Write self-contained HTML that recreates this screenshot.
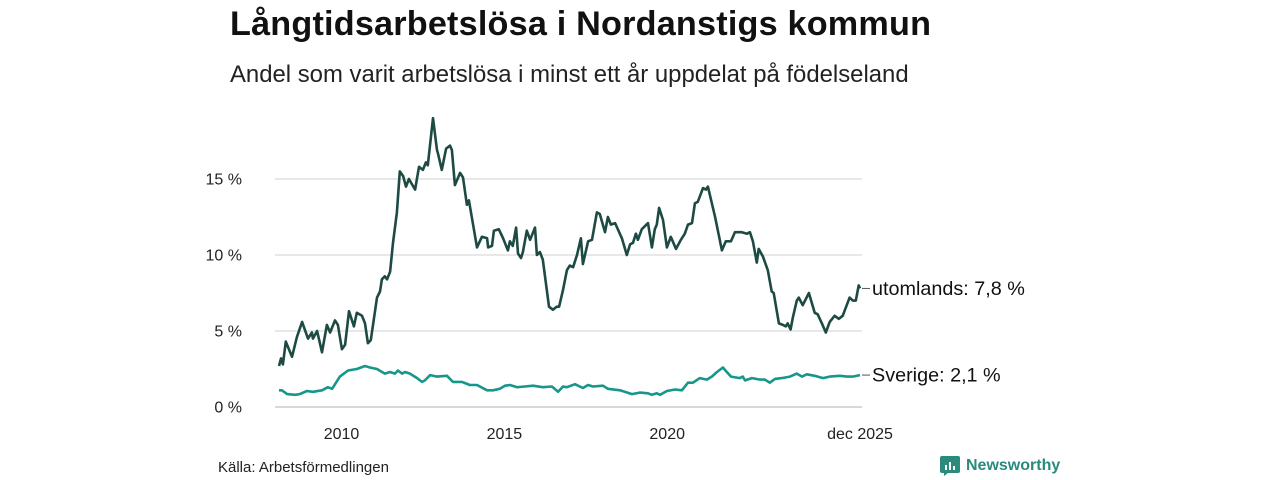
<!DOCTYPE html>
<html><head><meta charset="utf-8">
<style>
body{margin:0;background:#fff;width:1280px;height:480px;overflow:hidden;font-family:"Liberation Sans",sans-serif;}
#title{position:absolute;left:230px;top:5px;font-size:34.2px;font-weight:bold;color:#111;letter-spacing:0.2px}
#sub{position:absolute;left:230px;top:61px;font-size:23.9px;color:#222}
#src{position:absolute;left:218px;top:459px;font-size:15px;color:#222}
#logo{position:absolute;left:940px;top:456px;font-size:16px;font-weight:bold;color:#2a8a7c;display:flex;align-items:center;gap:6px}
svg{position:absolute;left:0;top:0}
</style></head><body>
<div id="title">Långtidsarbetslösa i Nordanstigs kommun</div>
<div id="sub">Andel som varit arbetslösa i minst ett år uppdelat på födelseland</div>
<div id="src">Källa: Arbetsförmedlingen</div>
<div id="logo"><svg width="20" height="20" style="position:static" viewBox="0 0 20 20"><rect x="0" y="0" width="20" height="17" rx="2" fill="#2a8a7c"/><path d="M4 17 L4 20 L8 17Z" fill="#2a8a7c"/><rect x="5" y="9" width="2" height="5" fill="#fff"/><rect x="9" y="6" width="2" height="8" fill="#fff"/><rect x="13" y="10" width="2" height="4" fill="#fff"/></svg><span>Newsworthy</span></div>
<svg id="chart" width="1280" height="480"></svg>
<script>
const yTicks=[0,5,10,15];
const yTickLabels=["0 %","5 %","10 %","15 %"];
const xTicks=[2010,2015,2020,2025.92];
const xTickLabels=["2010","2015","2020","dec 2025"];
const utDates=[2008.08,2008.14,2008.20,2008.29,2008.48,2008.63,2008.79,2008.97,2009.09,2009.12,2009.25,2009.40,2009.55,2009.65,2009.80,2009.89,2010.01,2010.11,2010.23,2010.38,2010.47,2010.63,2010.72,2010.81,2010.90,2011.09,2011.18,2011.24,2011.33,2011.40,2011.49,2011.58,2011.70,2011.79,2011.89,2011.98,2012.07,2012.26,2012.38,2012.50,2012.59,2012.65,2012.81,2012.93,2012.96,2013.08,2013.21,2013.33,2013.39,2013.48,2013.64,2013.73,2013.85,2013.91,2014.16,2014.31,2014.47,2014.50,2014.62,2014.68,2014.83,2014.96,2015.11,2015.17,2015.26,2015.36,2015.42,2015.51,2015.57,2015.69,2015.79,2015.94,2016.00,2016.09,2016.18,2016.37,2016.49,2016.61,2016.68,2016.80,2016.92,2017.01,2017.11,2017.23,2017.35,2017.41,2017.57,2017.69,2017.84,2017.93,2018.09,2018.18,2018.27,2018.40,2018.61,2018.76,2018.86,2018.95,2019.04,2019.10,2019.22,2019.41,2019.53,2019.62,2019.68,2019.75,2019.87,2019.99,2020.11,2020.27,2020.42,2020.54,2020.64,2020.76,2020.85,2020.94,2021.10,2021.19,2021.25,2021.47,2021.68,2021.80,2021.96,2022.08,2022.29,2022.45,2022.54,2022.63,2022.75,2022.81,2022.94,2023.09,2023.21,2023.27,2023.43,2023.55,2023.64,2023.70,2023.79,2023.86,2023.98,2024.04,2024.16,2024.35,2024.53,2024.62,2024.75,2024.87,2024.99,2025.14,2025.27,2025.39,2025.60,2025.70,2025.79,2025.88,2025.92];
const utValues=[2.7,3.2,2.8,4.3,3.3,4.6,5.6,4.5,4.9,4.5,5.0,3.6,5.4,4.9,5.7,5.4,3.8,4.1,6.3,5.3,6.2,6.0,5.5,4.2,4.4,7.2,7.6,8.4,8.6,8.4,8.9,10.8,12.8,15.5,15.2,14.5,15.0,14.3,15.8,15.6,16.1,15.9,19.0,16.9,16.7,15.6,17.0,17.2,16.9,14.6,15.4,15.1,13.3,13.6,10.5,11.2,11.1,10.5,10.6,11.6,11.7,11.1,10.3,10.9,10.6,11.8,10.1,9.8,10.2,11.6,11.0,11.8,10.0,10.2,9.7,6.6,6.4,6.6,6.6,7.7,9.0,9.3,9.2,10.0,11.1,9.4,10.9,11.0,12.8,12.7,11.5,12.5,12.0,12.1,11.1,10.0,10.7,10.8,11.4,11.0,11.7,12.1,10.5,11.7,12.0,13.1,12.3,10.5,11.2,10.4,11.0,11.4,12.0,12.1,13.4,13.5,14.4,14.3,14.5,12.5,10.3,10.9,10.9,11.5,11.5,11.4,11.5,10.9,9.5,10.4,9.9,9.0,7.6,7.5,5.5,5.4,5.3,5.5,5.1,5.9,7.0,7.2,6.7,7.5,6.2,6.1,5.5,4.9,5.6,6.0,5.8,6.0,7.2,7.0,7.0,8.0,7.8];
const seDates=[2008.08,2008.17,2008.33,2008.57,2008.72,2008.94,2009.12,2009.40,2009.58,2009.71,2009.95,2010.20,2010.47,2010.72,2010.87,2011.09,2011.33,2011.49,2011.64,2011.73,2011.86,2011.95,2012.10,2012.32,2012.47,2012.56,2012.72,2012.93,2013.24,2013.42,2013.70,2013.94,2014.16,2014.47,2014.65,2014.86,2015.02,2015.17,2015.39,2015.63,2015.88,2016.18,2016.46,2016.65,2016.80,2016.92,2017.17,2017.41,2017.57,2017.72,2018.03,2018.18,2018.55,2018.92,2019.16,2019.41,2019.53,2019.68,2019.78,2019.99,2020.24,2020.45,2020.64,2020.79,2021.00,2021.22,2021.37,2021.53,2021.71,2021.83,2021.96,2022.23,2022.32,2022.39,2022.60,2022.85,2023.00,2023.15,2023.31,2023.52,2023.77,2023.98,2024.14,2024.29,2024.53,2024.78,2024.99,2025.30,2025.52,2025.70,2025.92];
const seValues=[1.1,1.1,0.85,0.8,0.85,1.05,1.0,1.1,1.3,1.2,2.0,2.4,2.5,2.7,2.6,2.5,2.2,2.3,2.2,2.4,2.2,2.3,2.2,1.9,1.65,1.75,2.1,2.0,2.05,1.65,1.65,1.45,1.45,1.1,1.1,1.2,1.4,1.45,1.3,1.35,1.4,1.3,1.35,1.0,1.35,1.3,1.5,1.25,1.45,1.35,1.4,1.2,1.1,0.85,0.95,0.9,0.8,0.9,0.8,1.05,1.15,1.1,1.6,1.6,1.9,1.8,2.0,2.3,2.6,2.3,2.0,1.9,2.0,1.75,1.9,1.8,1.8,1.6,1.85,1.9,2.0,2.2,2.0,2.15,2.05,1.9,2.0,2.05,2.0,2.0,2.1];

const svg=document.getElementById('chart');
const NS='http://www.w3.org/2000/svg';
const X0=2008.08,X1=2025.92,PX0=279,PX1=860;
function xs(t){return PX0+(t-X0)/(X1-X0)*(PX1-PX0);}
function ys(v){return 407-v*15.2;}
function mk(tag,attrs){const e=document.createElementNS(NS,tag);for(const k in attrs)e.setAttribute(k,attrs[k]);svg.appendChild(e);return e;}
yTicks.forEach((v,i)=>{
  const g=mk('line',{x1:275,x2:862,y1:ys(v),y2:ys(v),stroke:v===0?'#ccc':'#e0e0e0','stroke-width':1.5});
  
  
  const t=mk('text',{x:242,y:ys(v)+5.5,'text-anchor':'end','font-size':16,fill:'#222','font-family':'Liberation Sans, sans-serif'});
  t.textContent=yTickLabels[i];
  
  
});
xTicks.forEach((v,i)=>{
  const t=mk('text',{x:xs(v),y:439,'text-anchor':'middle','font-size':16,fill:'#222','font-family':'Liberation Sans, sans-serif'});
  t.textContent=xTickLabels[i];
  
  
});
function line(d,v,color,name){
  const p=mk('path',{d:d.map((t,i)=>(i?'L':'M')+xs(t).toFixed(1)+','+ys(v[i]).toFixed(1)).join(''),fill:'none',stroke:color,'stroke-width':2.6,'stroke-linejoin':'round'});
  
  
}
line(seDates,seValues,'#16978a','line-sverige');
line(utDates,utValues,'#1d4a43','line-utomlands');
function label(v,text,name){
  const y=ys(v);
  const l=mk('line',{x1:862,x2:870,y1:y,y2:y,stroke:'#555','stroke-width':1});
  
  
  const t=mk('text',{x:872,y:y+6.5,'font-size':19.8,fill:'#111','font-family':'Liberation Sans, sans-serif'});
  t.textContent=text;
  
  
}
label(utValues[utValues.length-1],'utomlands: 7,8 %','label-utomlands');
label(seValues[seValues.length-1],'Sverige: 2,1 %','label-sverige');
</script>
</body></html>
